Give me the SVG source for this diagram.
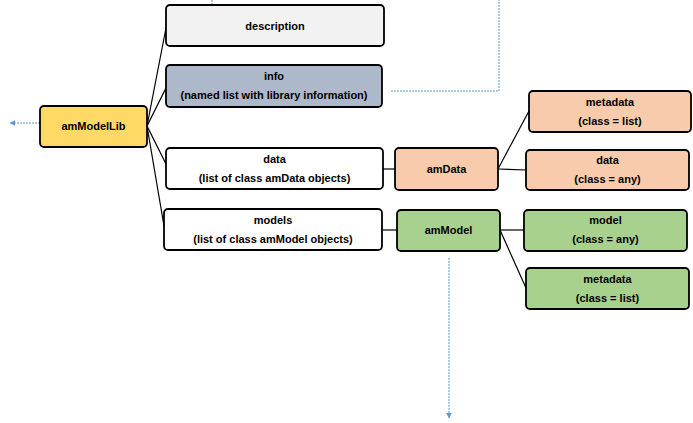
<svg xmlns="http://www.w3.org/2000/svg" width="693" height="423" viewBox="0 0 693 423">
<defs>
<marker id="arr" viewBox="0 0 10 10" refX="9" refY="5" markerWidth="6" markerHeight="6" orient="auto">
<path d="M0,0 L10,5 L0,10 z" fill="#5B9BD5"/>
</marker>
<style>
.box{stroke:#000;stroke-width:1.8}
.t{font-family:"Liberation Sans",Arial,sans-serif;font-size:11px;font-weight:bold;fill:#000;text-anchor:middle}
.c{stroke:#000;stroke-width:1.2;fill:none}
.d{stroke:#5B9BD5;stroke-width:1;stroke-dasharray:2 1;fill:none}
</style>
</defs>
<rect width="693" height="423" fill="#fff"/>
<g id="connectors">
<line class="c" x1="147" y1="126" x2="166" y2="28"/>
<line class="c" x1="147" y1="126" x2="166" y2="88"/>
<line class="c" x1="147" y1="126" x2="166" y2="164"/>
<line class="c" x1="147" y1="126" x2="164" y2="226"/>
<line class="c" x1="383" y1="169" x2="395" y2="169"/>
<line class="c" x1="382" y1="230" x2="397" y2="230"/>
<line class="c" x1="498" y1="169" x2="529" y2="111"/>
<line class="c" x1="498" y1="169" x2="526" y2="170"/>
<line class="c" x1="500" y1="230" x2="524" y2="230"/>
<line class="c" x1="500" y1="230" x2="526" y2="288"/>
<line class="d" x1="40" y1="123" x2="10" y2="123" marker-end="url(#arr)"/>
<line class="d" x1="212" y1="0" x2="212" y2="12"/>
<path class="d" d="M391,91 H499 V0"/>
<line class="d" x1="449" y1="258" x2="449" y2="418" marker-end="url(#arr)"/>
</g>
<g id="amModelLib">
<rect class="box" x="40" y="106" width="107" height="41" rx="4" fill="#FFD966"/>
<text class="t" x="93.5" y="130">amModelLib</text>
</g>
<g id="description">
<rect class="box" x="166" y="5" width="218" height="41" rx="4" fill="#F2F2F2"/>
<text class="t" x="275" y="30">description</text>
</g>
<g id="info">
<rect class="box" x="166" y="65" width="216" height="42" rx="4" fill="#ADB9CA"/>
<text class="t" x="274" y="80">info</text>
<text class="t" x="274" y="99">(named list with library information)</text>
</g>
<g id="data">
<rect class="box" x="166" y="148" width="217" height="41" rx="4" fill="#fff"/>
<text class="t" x="274.5" y="163">data</text>
<text class="t" x="274.5" y="182">(list of class amData objects)</text>
</g>
<g id="models">
<rect class="box" x="164" y="209" width="218" height="41" rx="4" fill="#fff"/>
<text class="t" x="273" y="224">models</text>
<text class="t" x="273" y="243">(list of class amModel objects)</text>
</g>
<g id="amData">
<rect class="box" x="395" y="148" width="103" height="42" rx="4" fill="#F8CBAD"/>
<text class="t" x="446.5" y="173">amData</text>
</g>
<g id="amModel">
<rect class="box" x="397" y="210" width="103" height="41" rx="4" fill="#A9D18E"/>
<text class="t" x="448.5" y="234">amModel</text>
</g>
<g id="data-metadata">
<rect class="box" x="529" y="91" width="162" height="41" rx="4" fill="#F8CBAD"/>
<text class="t" x="610" y="106">metadata</text>
<text class="t" x="610" y="125">(class = list)</text>
</g>
<g id="data-data">
<rect class="box" x="526" y="150" width="163" height="40" rx="4" fill="#F8CBAD"/>
<text class="t" x="607.5" y="164">data</text>
<text class="t" x="607.5" y="183">(class = any)</text>
</g>
<g id="model-model">
<rect class="box" x="524" y="210" width="163" height="41" rx="4" fill="#A9D18E"/>
<text class="t" x="605.5" y="224">model</text>
<text class="t" x="605.5" y="243">(class = any)</text>
</g>
<g id="model-metadata">
<rect class="box" x="526" y="268" width="163" height="41" rx="4" fill="#A9D18E"/>
<text class="t" x="607.5" y="283">metadata</text>
<text class="t" x="607.5" y="302">(class = list)</text>
</g>
</svg>
